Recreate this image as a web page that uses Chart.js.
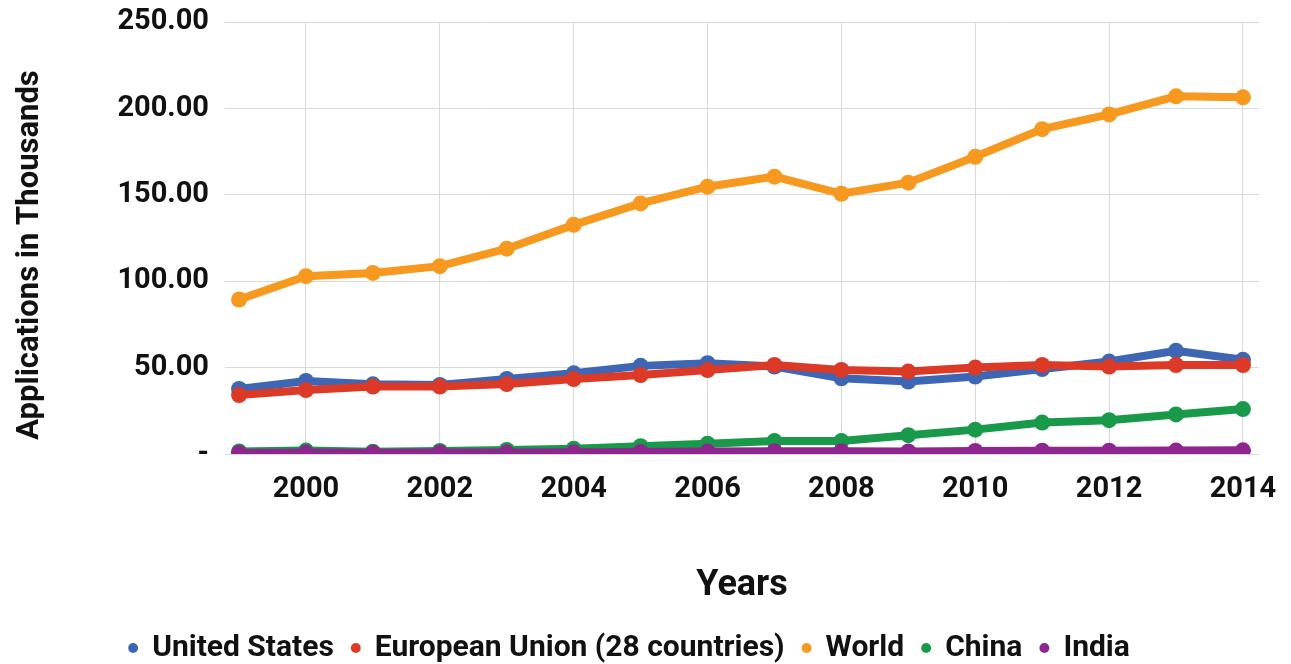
<!DOCTYPE html>
<html lang="en">
<head>
    <meta charset="UTF-8">
    <title>Applications in Thousands</title>
    <script src="https://cdn.jsdelivr.net/npm/chart.js"></script>
    <style>
        html, body { margin: 0; padding: 0; background: #fff; }
        #wrap { width: 1291px; height: 664px; }
    </style>
</head>
<body>
    <div id="wrap"><canvas id="appsChart" width="1291" height="664"></canvas></div>
    <script>
        const years = [1999, 2000, 2001, 2002, 2003, 2004, 2005, 2006, 2007, 2008, 2009, 2010, 2011, 2012, 2013, 2014];
        const yearTicks = [2000, 2002, 2004, 2006, 2008, 2010, 2012, 2014];
        const valueTicks = [0, 50, 100, 150, 200, 250];

        const unitedStates = [37.6, 42.3, 40.3, 40.0, 43.4, 46.7, 51.0, 52.5, 50.6, 43.8, 41.9, 44.8, 49.2, 53.5, 59.7, 54.5];
        const europeanUnion = [34.1, 37.0, 39.0, 39.0, 40.5, 43.4, 45.7, 48.6, 51.5, 48.6, 47.7, 50.0, 51.5, 50.6, 51.5, 51.5];
        const world = [89.4, 102.9, 104.8, 108.7, 118.8, 132.6, 145.0, 154.7, 160.5, 150.6, 157.0, 172.0, 188.0, 196.5, 207.0, 206.4];
        const china = [1.5, 2.0, 1.3, 1.8, 2.3, 3.0, 4.5, 6.0, 7.5, 7.5, 10.9, 14.1, 18.2, 19.6, 22.9, 26.0];
        const india = [0.6, 0.8, 0.7, 0.8, 0.9, 1.0, 1.2, 1.4, 1.6, 1.6, 1.5, 1.8, 1.9, 1.9, 2.0, 2.1];

        const font = 'Roboto';
        const yTitle = 'Applications in Thousands';
        const toPoints = (vals) => vals.map((v, i) => ({ x: years[i], y: v }));

        function series(label, values, color, order) {
            return {
                label: label,
                data: toPoints(values),
                borderColor: color,
                backgroundColor: color,
                borderWidth: 8,
                pointRadius: 8,
                pointHoverRadius: 8,
                pointBorderWidth: 0,
                tension: 0,
                order: order
            };
        }

        // y title sits a little below the plot's middle, so it is drawn by hand
        const yTitlePlugin = {
            id: 'yTitle',
            afterDraw(chart) {
                const c = chart.ctx;
                c.save();
                c.translate(30, 255);
                c.rotate(-Math.PI / 2);
                c.font = 'bold 31px ' + font;
                c.fillStyle = '#111';
                c.textAlign = 'center';
                c.textBaseline = 'middle';
                c.fillText(yTitle, 0, 0);
                c.restore();
            }
        };

        const ctx = document.getElementById('appsChart').getContext('2d');
        const appsChart = new Chart(ctx, {
            type: 'line',
            data: {
                datasets: [
                    series('United States', unitedStates, '#3d67b4', 5),
                    series('European Union (28 countries)', europeanUnion, '#dc3a26', 4),
                    series('World', world, '#f7981f', 3),
                    series('China', china, '#199a4a', 2),
                    series('India', india, '#8f268f', 1)
                ]
            },
            plugins: [yTitlePlugin],
            options: {
                responsive: false,
                animation: false,
                layout: { autoPadding: false, padding: { top: 22, right: 32, left: 0, bottom: -9 } },
                plugins: {
                    tooltip: { enabled: false },
                    legend: {
                        position: 'bottom',
                        labels: {
                            usePointStyle: true,
                            pointStyle: 'circle',
                            boxWidth: 8,
                            boxHeight: 7,
                            padding: 18,
                            color: '#111',
                            font: { family: font, size: 30, weight: 'bold' },
                            sort: (a, b) => a.datasetIndex - b.datasetIndex
                        }
                    }
                },
                scales: {
                    x: {
                        type: 'linear',
                        min: 1998.79,
                        max: 2014.24,
                        afterBuildTicks: (scale) => {
                            scale.ticks = yearTicks.map(v => ({ value: v }));
                        },
                        afterFit: (scale) => {
                            scale.height = 161;
                            scale.paddingLeft = 0;
                            scale.paddingRight = 0;
                        },
                        grid: { color: '#dadada', lineWidth: 1, drawTicks: false },
                        border: { display: false },
                        ticks: {
                            padding: 18,
                            color: '#111',
                            font: { family: font, size: 29, weight: 'bold' },
                            callback: (v) => String(v)
                        },
                        title: {
                            display: true,
                            text: 'Years',
                            color: '#111',
                            font: { family: font, size: 36, weight: 'bold' },
                            padding: { top: 0, bottom: 7 }
                        }
                    },
                    y: {
                        min: 0,
                        max: 250,
                        afterBuildTicks: (scale) => {
                            scale.ticks = valueTicks.map(v => ({ value: v }));
                        },
                        afterFit: (scale) => {
                            scale.width = 225;
                            scale.paddingTop = 0;
                            scale.paddingBottom = 0;
                        },
                        grid: { color: '#dadada', lineWidth: 1, drawTicks: false },
                        border: { display: false },
                        ticks: {
                            padding: 16,
                            color: '#111',
                            font: { family: font, size: 29, weight: 'bold' },
                            callback: (v) => v === 0 ? '-' : v.toFixed(2)
                        }
                    }
                }
            }
        });
    </script>
</body>
</html>
